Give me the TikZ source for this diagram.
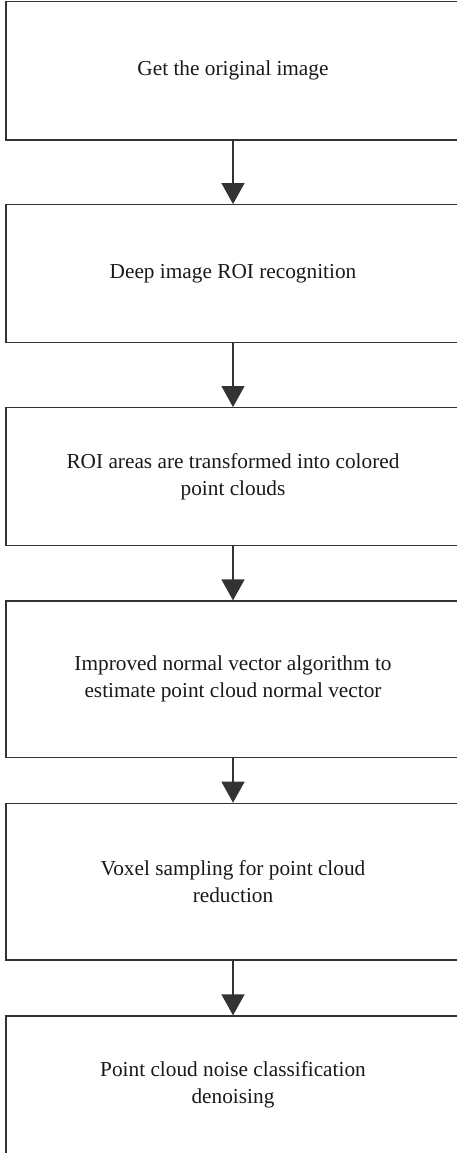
\documentclass[tikz,border=0pt]{standalone}
\usepackage{fontspec}
\setmainfont{Liberation Serif}
\usetikzlibrary{arrows.meta}
\begin{document}
\begin{tikzpicture}[x=1pt,y=-1pt,
  stepbox/.style={draw=black!80, line width=1.3pt, minimum width=454pt, inner sep=0pt,
    align=center, font=\fontsize{21.3}{27}\selectfont, text=black!90},
  flow/.style={draw=black!80, line width=1.3pt, -{Triangle[width=23pt,length=21pt]}}]
\useasboundingbox (0,0) rectangle (456,1153);
\node[stepbox, minimum height=138.3pt] (b1) at (233,70.8) {Get the original image};
\node[stepbox, minimum height=138pt] (b2) at (233,273.7) {Deep image ROI recognition};
\node[stepbox, minimum height=138pt] (b3) at (233,476.7) {ROI areas are transformed into colored\\point clouds};
\node[stepbox, minimum height=156.3pt] (b4) at (233,679.2) {Improved normal vector algorithm to\\estimate point cloud normal vector};
\node[stepbox, minimum height=156.7pt] (b5) at (233,881.7) {Voxel sampling for point cloud\\reduction};
\node[stepbox, minimum height=138pt] (b6) at (233,1085) {Point cloud noise classification\\denoising};
\draw[flow] (b1) -- (b2);
\draw[flow] (b2) -- (b3);
\draw[flow] (b3) -- (b4);
\draw[flow] (b4) -- (b5);
\draw[flow] (b5) -- (b6);
\end{tikzpicture}
\end{document}
